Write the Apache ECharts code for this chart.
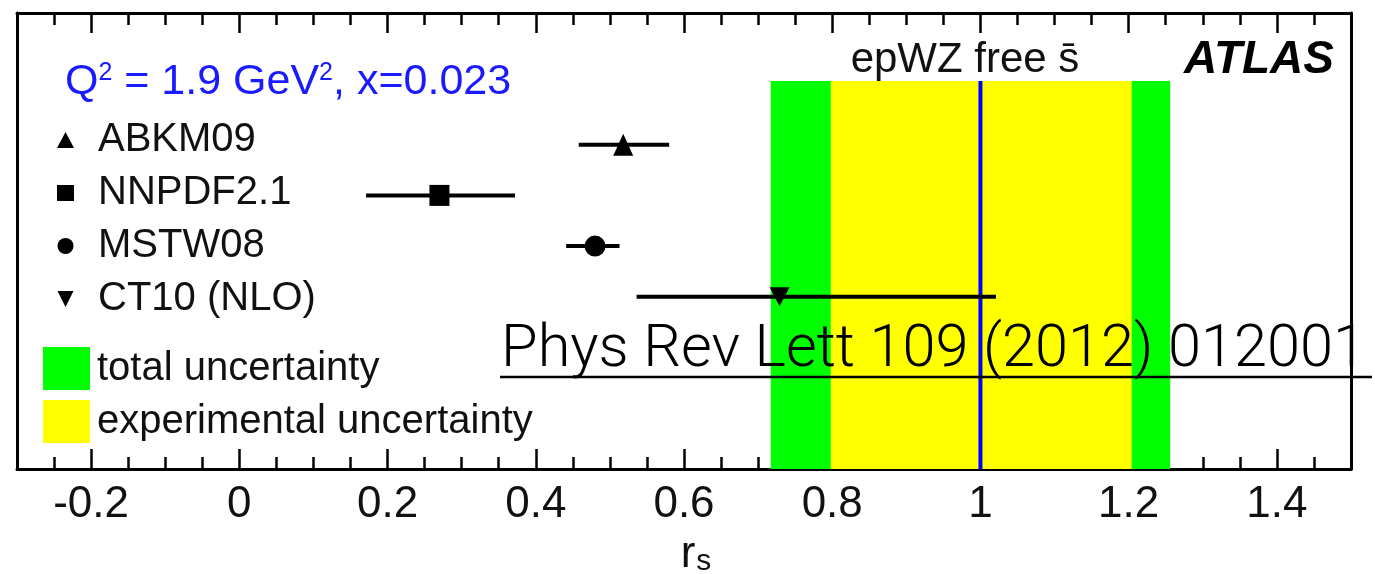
<!DOCTYPE html>
<html><head><meta charset="utf-8">
<script src="https://cdn.jsdelivr.net/npm/echarts@6/dist/echarts.min.js"></script>
<style>html,body{margin:0;padding:0;background:#fff}#c{width:1375px;height:574px}</style>
</head><body><div id="c"></div>
<script>
// ---- data ----
const models = ['ABKM09', 'NNPDF2.1', 'MSTW08', 'CT10 (NLO)'];
const central = [0.518, 0.270, 0.480, 0.729];
const errLow = [0.458, 0.171, 0.441, 0.536];
const errHigh = [0.580, 0.372, 0.513, 1.021];
const epwzCentral = [1.0];
const expBand = [0.798, 1.204];
const totBand = [0.717, 1.256];
const bandLabels = ['total uncertainty', 'experimental uncertainty'];

// ---- layout / style ----
const FONT = '"Liberation Sans", Arial, Helvetica, sans-serif';
const X_MIN = -0.3, X_MAX = 1.5, X_MINOR = 0.05;
const Y_MIN = -6.4, Y_MAX = 2.6, BAND_TOP = 1.26;
const symbols = ['triangle', 'rect', 'circle', 'path://M0,0L10,0L5,10Z'];
const symSizes = [[20, 22], [20, 21], [21, 21], [20, 19]];
const rowY = i => -i;

const axisBase = () => ({type: 'value', min: X_MIN, max: X_MAX, splitLine: {show: false}});
const majorTick = () => ({show: true, inside: true, length: 20, lineStyle: {color: '#000', width: 2.5}});
const minorTick = () => ({show: true, inside: true, length: 12, lineStyle: {color: '#000', width: 2.5}});
const frameLine = () => ({show: true, onZero: false, lineStyle: {color: '#000', width: 3}});
const isEdge = v => Math.abs(v - X_MIN) < 1e-9 || Math.abs(v - X_MAX) < 1e-9;

const chart = echarts.init(document.getElementById('c'));

const option = {
  animation: false,
  backgroundColor: '#fff',
  grid: {left: 17, right: 24, top: 13, bottom: 105, outerBoundsMode: 'none', containLabel: false},
  xAxis: [
    Object.assign(axisBase(), {
      position: 'bottom', splitNumber: 9,
      axisLine: frameLine(),
      axisTick: majorTick(),
      axisLabel: {show: true, showMinLabel: false, showMaxLabel: false, fontSize: 44, color: '#111', fontFamily: FONT, margin: 14,
        formatter: v => isEdge(v) ? '' : String(Math.round(v * 10) / 10)},
      name: '{r|r}{s|s}',
      nameLocation: 'middle',
      nameGap: 64,
      nameMoveOverlap: false,
      nameTextStyle: {
        padding: [0, 0, 0, 24],
        rich: {
          r: {fontSize: 44, lineHeight: 44, verticalAlign: 'top', fontFamily: FONT, color: '#111'},
          s: {fontSize: 30, lineHeight: 30, verticalAlign: 'bottom', fontFamily: FONT, color: '#111', padding: [48, 0, 0, 1]}
        }
      }
    }),
    Object.assign(axisBase(), {position: 'bottom', interval: X_MINOR, axisLine: {show: false, onZero: false}, axisTick: minorTick(), axisLabel: {show: false}}),
    Object.assign(axisBase(), {position: 'top', splitNumber: 9, axisLine: frameLine(), axisTick: majorTick(), axisLabel: {show: false}}),
    Object.assign(axisBase(), {position: 'top', interval: X_MINOR, axisLine: {show: false, onZero: false}, axisTick: minorTick(), axisLabel: {show: false}})
  ],
  yAxis: [
    {type: 'value', min: Y_MIN, max: Y_MAX, position: 'left', axisLine: frameLine(), axisTick: {show: false}, axisLabel: {show: false}, splitLine: {show: false}},
    {type: 'value', min: Y_MIN, max: Y_MAX, position: 'right', axisLine: frameLine(), axisTick: {show: false}, axisLabel: {show: false}, splitLine: {show: false}}
  ],
  legend: [
    {
      orient: 'vertical', left: 57, top: 120, padding: 0, itemWidth: 17, itemHeight: 16, itemGap: 13,
      selectedMode: false,
      textStyle: {fontSize: 40, lineHeight: 40, fontFamily: FONT, color: '#111', padding: [0, 0, 0, 19]},
      data: models.map((m, i) => ({name: m, icon: symbols[i]}))
    },
    {
      orient: 'vertical', left: 43, top: 347, padding: 0, itemWidth: 47, itemHeight: 43, itemGap: 10,
      selectedMode: false,
      textStyle: {fontSize: 40, lineHeight: 40, fontFamily: FONT, color: '#111', padding: [0, 0, 0, 2]},
      data: bandLabels.map(n => ({name: n, icon: 'rect'}))
    }
  ],
  series: [
    {
      type: 'custom', name: bandLabels[0], z: 1, silent: true,
      itemStyle: {color: '#00ff00'},
      encode: {x: [0, 1]},
      data: [totBand],
      renderItem: (p, api) => {
        const a = api.coord([api.value(0), BAND_TOP]);
        const b = api.coord([api.value(1), Y_MIN]);
        return {type: 'rect', shape: {x: a[0], y: a[1], width: b[0] - a[0], height: b[1] - a[1]}, style: {fill: '#00ff00'}};
      }
    },
    {
      type: 'custom', name: bandLabels[1], z: 2, silent: true,
      itemStyle: {color: '#ffff00'},
      encode: {x: [0, 1]},
      data: [expBand],
      renderItem: (p, api) => {
        const a = api.coord([api.value(0), BAND_TOP]);
        const b = api.coord([api.value(1), Y_MIN]);
        return {type: 'rect', shape: {x: a[0], y: a[1], width: b[0] - a[0], height: b[1] - a[1]}, style: {fill: '#ffff00'}};
      }
    },
    {
      type: 'custom', name: 'epWZ central', z: 3, silent: true,
      encode: {x: 0},
      data: epwzCentral.map(v => [v]),
      renderItem: (p, api) => {
        const a = api.coord([api.value(0), BAND_TOP]);
        const b = api.coord([api.value(0), Y_MIN]);
        return {type: 'line', shape: {x1: a[0], y1: a[1], x2: b[0], y2: b[1]}, style: {stroke: '#0000ff', lineWidth: 4}};
      }
    },
    {
      type: 'custom', name: 'errors', z: 4, silent: true,
      encode: {x: [0, 1], y: 2},
      data: models.map((m, i) => [errLow[i], errHigh[i], rowY(i)]),
      renderItem: (p, api) => {
        const a = api.coord([api.value(0), api.value(2)]);
        const b = api.coord([api.value(1), api.value(2)]);
        return {type: 'line', shape: {x1: a[0], y1: a[1], x2: b[0], y2: b[1]}, style: {stroke: '#000', lineWidth: 4}};
      }
    }
  ].concat(models.map((m, i) => ({
    type: 'scatter', name: m, z: 5, silent: true,
    symbol: symbols[i], symbolSize: symSizes[i],
    itemStyle: {color: '#000', opacity: 1},
    data: [[central[i], rowY(i)]]
  }))),
  graphic: [
    {
      type: 'text', z: 100, x: 65, y: 61,
      style: {
        text: '{m|Q}{sup|2}{m| = 1.9 GeV}{sup|2}{m|, x=0.023}',
        fill: '#1a1aff',
        rich: {
          m: {fontSize: 43, lineHeight: 43, verticalAlign: 'bottom', fontFamily: FONT, fill: '#1a1aff'},
          sup: {fontSize: 25, lineHeight: 25, verticalAlign: 'top', fontFamily: FONT, fill: '#1a1aff'}
        }
      }
    },
    {
      type: 'text', z: 100, x: 965, y: 60,
      style: {text: 'epWZ free s\u0304', font: '42px ' + FONT, fill: '#111', textAlign: 'center', textVerticalAlign: 'middle'}
    },
    {
      type: 'text', z: 100, x: 1334, y: 60,
      style: {text: 'ATLAS', font: 'italic bold 46px ' + FONT, fill: '#000', textAlign: 'right', textVerticalAlign: 'middle'}
    },
    {
      type: 'text', z: 100, x: 501, y: 351,
      style: {text: 'Phys Rev Lett 109 (2012) 012001', font: '300 59.5px Roboto, "Liberation Sans", sans-serif', fill: '#000', textAlign: 'left', textVerticalAlign: 'middle'}
    },
    {
      type: 'line', z: 100,
      shape: {x1: 500, y1: 377, x2: 1372, y2: 377},
      style: {stroke: '#000', lineWidth: 2.5}
    }
  ]
};
chart.setOption(option);
</script>
</body></html>
